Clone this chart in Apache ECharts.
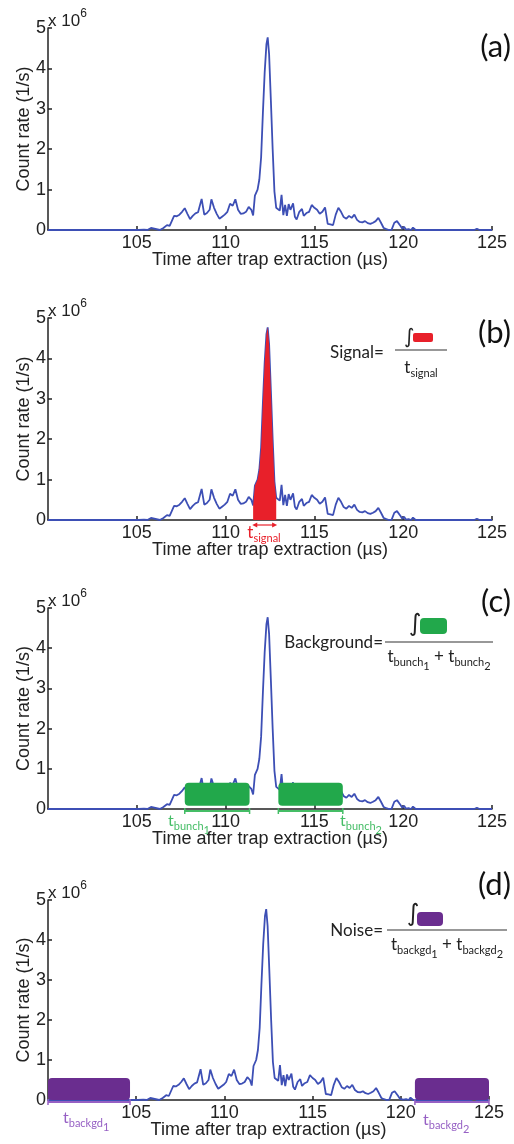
<!DOCTYPE html>
<html><head><meta charset="utf-8">
<script src="https://cdn.jsdelivr.net/npm/echarts@6/dist/echarts.min.js"></script>
<style>html,body{margin:0;padding:0;background:#fff}#c{width:514px;height:1144px}</style>
</head><body><div id="c"></div>
<script>
// ---- data (count rate in units of 1e6 /s) ----
const times = [100.0,104.0,104.1,104.2,105.1,105.2,105.4,105.5,105.6,105.8,105.9,106.3,106.5,106.7,106.85,107.0,107.1,107.25,107.4,107.55,107.7,107.85,108.0,108.15,108.3,108.45,108.55,108.65,108.8,108.95,109.1,109.2,109.35,109.5,109.65,109.8,109.95,110.1,110.25,110.4,110.55,110.7,110.85,111.0,111.15,111.3,111.45,111.55,111.65,111.8,111.9,112.0,112.1,112.2,112.3,112.37,112.45,112.55,112.65,112.75,112.85,112.95,113.05,113.15,113.25,113.35,113.45,113.55,113.65,113.8,113.9,114.0,114.15,114.3,114.4,114.55,114.7,114.85,115.0,115.15,115.3,115.45,115.6,115.75,115.9,116.05,116.2,116.35,116.5,116.65,116.8,116.95,117.1,117.25,117.4,117.55,117.7,117.85,118.0,118.15,118.3,118.45,118.6,118.75,118.9,119.05,119.2,119.35,119.5,119.65,119.75,119.85,119.95,120.05,120.15,120.3,120.45,120.55,120.7,124.0,124.15,124.3,125.0];
const rates = [0,0,0.03,0,0,0.03,0.01,0.02,0,0.05,0.01,0,0.05,0.12,0.1,0.25,0.35,0.34,0.38,0.45,0.54,0.4,0.27,0.35,0.41,0.44,0.42,0.77,0.38,0.42,0.5,0.76,0.55,0.4,0.28,0.33,0.38,0.45,0.65,0.6,0.76,0.5,0.4,0.41,0.45,0.57,0.5,0.36,0.85,1.0,1.25,1.8,2.9,3.9,4.6,4.77,4.35,3.2,2.0,0.95,0.55,0.52,0.48,0.87,0.37,0.62,0.35,0.64,0.5,0.66,0.33,0.26,0.45,0.52,0.35,0.42,0.45,0.62,0.55,0.5,0.4,0.45,0.56,0.15,0.14,0.12,0.38,0.55,0.45,0.32,0.28,0.35,0.3,0.38,0.25,0.2,0.19,0.22,0.17,0.15,0.18,0.22,0.3,0.18,0.05,0.02,0,0.01,0.18,0.22,0.25,0.1,0.03,0.08,0.01,0.02,0,0.06,0,0,0.03,0,0];
const xRange = [100, 125];
const xStep = 5;
const yRange = [0, 5];
const yStep = 1;
const panelLetters = ['(a)', '(b)', '(c)', '(d)'];
const signalWindow = [111.5, 112.9];
const bunchWindows = [[107.7, 111.35], [112.97, 116.6]];
const bunchLevels = [0.08, 0.65];
const backgdWindows = [[100, 104.65], [120.8, 125]];
const backgdLevels = [0, 0.55];
const xTitle = 'Time after trap extraction (\u00b5s)';
const yTitle = 'Count rate (1/s)';

// ---- styling ----
const BLUE = '#3d4fb5', RED = '#e8202a', GREEN = '#22a84b', LGREEN = '#45bd66',
      PURPLE = '#6a2d8f', LPURPLE = '#9660c4', AX = '#222';
const AXFONT = 'Liberation Sans', ANFONT = 'Lato';

const lineData = times.map((t, i) => [t, rates[i]]);
const signalData = lineData.filter(p => p[0] >= signalWindow[0] && p[0] <= signalWindow[1]);

const grids = [
  {left: 48, top: 28, width: 444, height: 202},
  {left: 48, top: 318, width: 444, height: 202},
  {left: 48, top: 608, width: 444, height: 201},
  {left: 48, top: 900, width: 441, height: 200}
];

const cv = document.createElement('canvas').getContext('2d');
function tw(s, size, fam) { cv.font = size + 'px ' + fam; return cv.measureText(s).width; }
function txt(x, y, s, size, fam, color, align, valign) {
  return {type: 'text', x: x, y: y, silent: true,
    style: {text: s, font: size + 'px "' + fam + '"', fill: color,
      textAlign: align || 'left', textVerticalAlign: valign || 'middle',
      align: align || 'left', verticalAlign: valign || 'middle'}};
}
function subText(x, y, parts, align, color) {
  const ws = parts.map(p => tw(p[0], p[1], ANFONT));
  const total = ws.reduce((a, b) => a + b, 0);
  let cx = align === 'center' ? x - total / 2 : (align === 'right' ? x - total : x);
  const out = [];
  parts.forEach((p, i) => { out.push(txt(cx, y + p[2], p[0], p[1], ANFONT, color, 'left', 'middle')); cx += ws[i]; });
  return out;
}
function hline(x1, x2, y, color, w) {
  return {type: 'line', silent: true, shape: {x1: x1, y1: y, x2: x2, y2: y}, style: {stroke: color, lineWidth: w || 1.2}};
}
function rrect(x, y, w, h, color, r) {
  return {type: 'rect', silent: true, shape: {x: x, y: y, width: w, height: h, r: r || 3}, style: {fill: color}};
}

const xAxes = grids.map((g, i) => ({
  type: 'value', gridIndex: i, min: xRange[0], max: xRange[1], interval: xStep,
  name: xTitle, nameLocation: 'middle', nameGap: 21, nameMoveOverlap: false,
  nameTextStyle: {fontFamily: AXFONT, fontSize: 18, color: AX},
  axisLine: {lineStyle: {color: AX, width: 1.5}},
  axisTick: {inside: true, length: 4, lineStyle: {color: AX, width: 1.5}},
  axisLabel: {fontFamily: AXFONT, fontSize: 18, color: AX, margin: 4, showMinLabel: false},
  splitLine: {show: false}
}));
const yAxes = grids.map((g, i) => ({
  type: 'value', gridIndex: i, min: yRange[0], max: yRange[1], interval: yStep,
  name: yTitle, nameLocation: 'middle', nameGap: 15, nameMoveOverlap: false,
  nameTextStyle: {fontFamily: AXFONT, fontSize: 18, color: AX},
  axisLine: {show: true, lineStyle: {color: AX, width: 1.5}},
  axisTick: {show: true, inside: true, length: 4, lineStyle: {color: AX, width: 1.5}},
  axisLabel: {fontFamily: AXFONT, fontSize: 18, color: AX, margin: 2},
  splitLine: {show: false}
}));

function windowRenderer(fill, light) {
  return function (params, api) {
    const x0 = api.value(0), x1 = api.value(1), y0 = api.value(2), y1 = api.value(3);
    const a = api.coord([x0, y1]), b = api.coord([x1, y0]);
    const base = api.coord([x0, 0])[1];
    return {type: 'group', children: [
      {type: 'line', shape: {x1: a[0], y1: base + 2, x2: b[0], y2: base + 2}, style: {stroke: light, lineWidth: 2}},
      {type: 'line', shape: {x1: a[0], y1: base - 1, x2: a[0], y2: base + 5}, style: {stroke: light, lineWidth: 1.5}},
      {type: 'line', shape: {x1: b[0], y1: base - 1, x2: b[0], y2: base + 5}, style: {stroke: light, lineWidth: 1.5}},
      {type: 'rect', shape: {x: a[0], y: a[1], width: b[0] - a[0], height: b[1] - a[1], r: 4}, style: {fill: fill}}
    ]};
  };
}
function arrowRenderer(params, api) {
  const a = api.coord([api.value(0), 0]), b = api.coord([api.value(1), 0]);
  const y = a[1] + 5;
  return {type: 'group', children: [
    {type: 'line', shape: {x1: a[0] + 2, y1: y, x2: b[0] - 2, y2: y}, style: {stroke: RED, lineWidth: 1.2}},
    {type: 'polygon', shape: {points: [[a[0], y], [a[0] + 5, y - 2.5], [a[0] + 5, y + 2.5]]}, style: {fill: RED}},
    {type: 'polygon', shape: {points: [[b[0], y], [b[0] - 5, y - 2.5], [b[0] - 5, y + 2.5]]}, style: {fill: RED}}
  ]};
}

const series = [];
grids.forEach((g, i) => {
  series.push({type: 'line', xAxisIndex: i, yAxisIndex: i, data: lineData, showSymbol: false,
    lineStyle: {color: BLUE, width: 1.8}, z: 3, animation: false});
});
series.push({type: 'line', xAxisIndex: 1, yAxisIndex: 1, data: signalData, showSymbol: false,
  lineStyle: {width: 0}, areaStyle: {color: RED, opacity: 1}, z: 4, animation: false});
series.push({type: 'custom', xAxisIndex: 1, yAxisIndex: 1, data: [[signalWindow[0], signalWindow[1]]],
  renderItem: arrowRenderer, clip: false, z: 5, animation: false, encode: {x: [0, 1]}});
series.push({type: 'custom', xAxisIndex: 2, yAxisIndex: 2,
  data: bunchWindows.map(w => [w[0], w[1], bunchLevels[0], bunchLevels[1]]),
  renderItem: windowRenderer(GREEN, LGREEN), clip: false, z: 5, animation: false, encode: {x: [0, 1], y: [2, 3]}});
series.push({type: 'custom', xAxisIndex: 3, yAxisIndex: 3,
  data: backgdWindows.map(w => [w[0], w[1], backgdLevels[0], backgdLevels[1]]),
  renderItem: windowRenderer(PURPLE, LPURPLE), clip: false, z: 5, animation: false, encode: {x: [0, 1], y: [2, 3]}});

// ---- annotations ----
const gfx = [];
const letterY = [47, 333, 602, 885];
grids.forEach((g, i) => {
  gfx.push(txt(48, g.top - 7, 'x 10', 17, AXFONT, AX, 'left', 'middle'));
  gfx.push(txt(48 + tw('x 10', 17, AXFONT), g.top - 14, '6', 12, AXFONT, AX, 'left', 'middle'));
  gfx.push(txt(511, letterY[i], panelLetters[i], 31, ANFONT, '#111', 'right', 'middle'));
});
// (b) Signal formula
gfx.push(txt(330, 353, 'Signal=', 17, ANFONT, '#222', 'left', 'middle'));
gfx.push(hline(395, 447, 350, '#333'));
gfx.push(txt(404, 338, '\u222b', 20, 'DejaVu Sans', '#222', 'left', 'middle'));
gfx.push(rrect(413, 333, 20, 9, RED, 2));
gfx.push(...subText(421, 368, [['t', 17, 0], ['signal', 11, 5]], 'center', '#222'));
gfx.push(...subText(264, 533, [['t', 17, 0], ['signal', 11, 5]], 'center', RED));
// (c) Background formula
gfx.push(txt(383, 643, 'Background=', 17, ANFONT, '#222', 'right', 'middle'));
gfx.push(hline(385, 493, 642, '#333'));
gfx.push(txt(409, 625, '\u222b', 24, 'DejaVu Sans', '#222', 'left', 'middle'));
gfx.push(rrect(420, 618, 27, 16, GREEN, 4));
gfx.push(...subText(439, 657, [['t', 17, 0], ['bunch', 11, 5], ['1', 11, 9], [' + ', 17, 0], ['t', 17, 0], ['bunch', 11, 5], ['2', 11, 9]], 'center', '#222'));
gfx.push(...subText(168, 821, [['t', 16, 0], ['bunch', 11, 5], ['1', 11, 9]], 'left', LGREEN));
gfx.push(...subText(340, 821, [['t', 16, 0], ['bunch', 11, 5], ['2', 11, 9]], 'left', LGREEN));
// (d) Noise formula
gfx.push(txt(383, 931, 'Noise=', 17, ANFONT, '#222', 'right', 'middle'));
gfx.push(hline(387, 507, 930, '#333'));
gfx.push(txt(407, 915, '\u222b', 24, 'DejaVu Sans', '#222', 'left', 'middle'));
gfx.push(rrect(417, 912, 26, 14, PURPLE, 4));
gfx.push(...subText(447, 945, [['t', 17, 0], ['backgd', 11, 5], ['1', 11, 9], [' + ', 17, 0], ['t', 17, 0], ['backgd', 11, 5], ['2', 11, 9]], 'center', '#222'));
gfx.push(...subText(63, 1118, [['t', 16, 0], ['backgd', 11, 5], ['1', 11, 9]], 'left', LPURPLE));
gfx.push(...subText(423, 1120, [['t', 16, 0], ['backgd', 11, 5], ['2', 11, 9]], 'left', LPURPLE));

const chart = echarts.init(document.getElementById('c'), null, {renderer: 'canvas'});
chart.setOption({
  backgroundColor: '#fff',
  animation: false,
  grid: grids,
  xAxis: xAxes,
  yAxis: yAxes,
  series: series,
  graphic: {elements: gfx}
});
</script></body></html>
